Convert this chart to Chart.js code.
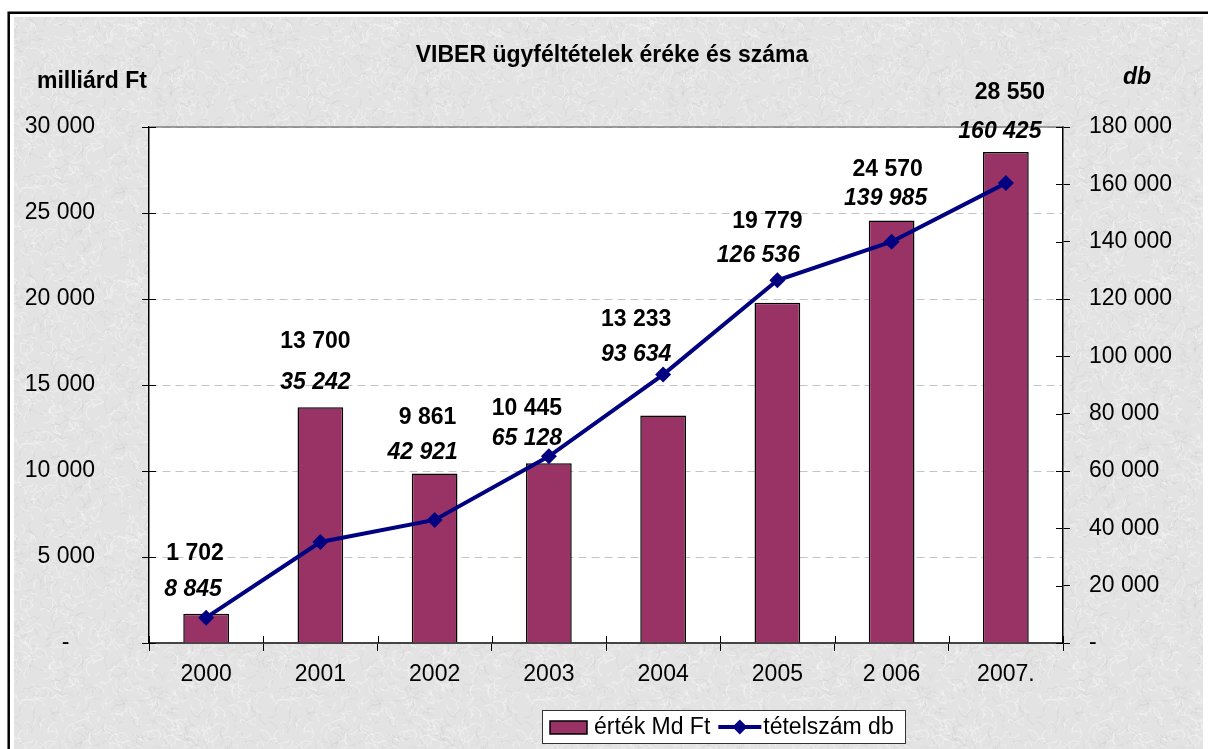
<!DOCTYPE html>
<html>
<head>
<meta charset="utf-8">
<title>VIBER ügyféltételek</title>
<script src="https://cdn.jsdelivr.net/npm/chart.js@4/dist/chart.umd.min.js"></script>
<style>
  html, body { margin: 0; padding: 0; background: #fff; }
  #wrap { width: 1208px; height: 749px; }
</style>
</head>
<body>
<div id="wrap"><canvas id="viberChart" width="1208" height="749"></canvas></div>
<script>
// DATA

const years = ['2000', '2001', '2002', '2003', '2004', '2005', '2 006', '2007.'];
const valueMdFt = [1702, 13700, 9861, 10445, 13233, 19779, 24570, 28550];
const itemCount = [8845, 35242, 42921, 65128, 93634, 126536, 139985, 160425];

const leftTickLabels = ['-    ', '5 000', '10 000', '15 000', '20 000', '25 000', '30 000'];
const rightTickLabels = ['-', '20 000', '40 000', '60 000', '80 000', '100 000', '120 000', '140 000', '160 000', '180 000'];

// label nudges (pixels) so the texts sit where the original put them
const barLabelNudge = [[-11, 0], [-5, -5], [-7, 1], [-22, 6], [-27, 1], [-10, 2], [-4, 7], [4, -3]];
const lineLabelNudge = [[-13, 0], [-5, -1], [-12, 3], [-22, 6], [-27, 4], [-19, -1], [-6, 2], [-6, 4]];

const FONT = "'Liberation Sans', Arial, sans-serif";
const FS = 23;
const BAR_COLOR = '#993366';
const LINE_COLOR = '#000080';

function spaced(n) {
    return String(n).replace(/\B(?=(\d{3})+(?!\d))/g, ' ');
}

// light grey stone-like texture for the frame

function makeTexture() {
    const c = document.createElement('canvas');
    c.width = 256;
    c.height = 256;
    const g = c.getContext('2d');
    g.fillStyle = '#e3e3e3';
    g.fillRect(0, 0, 256, 256);
    let s = 11;
    const next = () => (s = (s * 16807) % 2147483647) / 2147483647;
    for (let i = 0; i < 1600; i++) {
        const x = next() * 256, y = next() * 256, a = next() * Math.PI * 2, l = 2 + next() * 7;
        g.strokeStyle = next() < 0.6 ? 'rgba(250,250,250,0.45)' : 'rgba(195,195,195,0.28)';
        g.lineWidth = 1;
        g.beginPath();
        g.moveTo(x, y);
        g.quadraticCurveTo(x + Math.cos(a + 0.8) * l, y + Math.sin(a + 0.8) * l,
            x + Math.cos(a) * l * 1.6, y + Math.sin(a) * l * 1.6);
        g.stroke();
    }
    return c;
}

const backgroundPlugin = {
    id: 'background',
    beforeDraw(chart) {
        const ctx = chart.ctx, a = chart.chartArea;
        ctx.save();
        ctx.fillStyle = '#fff';
        ctx.fillRect(0, 0, chart.width, chart.height);
        ctx.fillStyle = ctx.createPattern(makeTexture(), 'repeat');
        ctx.fillRect(14, 17, chart.width - 19, chart.height - 17);
        ctx.strokeStyle = '#000';
        ctx.lineWidth = 2.5;
        ctx.beginPath();
        ctx.moveTo(8.7, chart.height);
        ctx.lineTo(8.7, 12.8);
        ctx.lineTo(chart.width, 12.8);
        ctx.stroke();
        ctx.fillStyle = '#fff';
        ctx.fillRect(a.left, a.top, a.right - a.left, a.bottom - a.top);

        // titles
        ctx.fillStyle = '#000';
        ctx.textBaseline = 'alphabetic';
        ctx.font = 'bold ' + FS + 'px ' + FONT;
        ctx.textAlign = 'center';
        ctx.fillText('VIBER ügyféltételek éréke és száma', 612, 62);
        ctx.textAlign = 'left';
        ctx.fillText('milliárd Ft', 37, 88);
        ctx.font = 'italic bold ' + FS + 'px ' + FONT;
        ctx.fillText('db', 1123, 84);
        ctx.restore();
    },
    beforeDatasetsDraw(chart) {
        const ctx = chart.ctx, a = chart.chartArea;
        ctx.save();
        // solid top edge of the plot
        ctx.strokeStyle = '#808080';
        ctx.lineWidth = 1.5;
        ctx.beginPath();
        ctx.moveTo(a.left, a.top);
        ctx.lineTo(a.right, a.top);
        ctx.stroke();
        // tick marks also reach into the plot
        ctx.strokeStyle = '#000';
        ctx.lineWidth = 1;
        chart.scales.y.ticks.forEach((t, i) => {
            const y = Math.round(chart.scales.y.getPixelForTick(i)) + 0.5;
            ctx.beginPath(); ctx.moveTo(a.left, y); ctx.lineTo(a.left + 7, y); ctx.stroke();
        });
        chart.scales.y1.ticks.forEach((t, i) => {
            const y = Math.round(chart.scales.y1.getPixelForTick(i)) + 0.5;
            ctx.beginPath(); ctx.moveTo(a.right - 7, y); ctx.lineTo(a.right, y); ctx.stroke();
        });
        const step = (a.right - a.left) / years.length;
        for (let i = 0; i <= years.length; i++) {
            const x = Math.round(a.left + step * i) + 0.5;
            ctx.beginPath(); ctx.moveTo(x, a.bottom - 7); ctx.lineTo(x, a.bottom); ctx.stroke();
        }
        ctx.restore();
    }
};

const labelPlugin = {
    id: 'valueLabels',
    afterDatasetsDraw(chart) {
        const ctx = chart.ctx;
        const xs = chart.scales.x, ys = chart.scales.y, ys1 = chart.scales.y1;
        ctx.save();
        ctx.fillStyle = '#000';
        ctx.textAlign = 'center';
        ctx.textBaseline = 'middle';
        years.forEach((yr, i) => {
            const x = xs.getPixelForValue(i);
            const top = Math.min(ys.getPixelForValue(valueMdFt[i]), ys1.getPixelForValue(itemCount[i]));
            const lineY = top - 24 + lineLabelNudge[i][1];
            const barY = lineY - 36 + barLabelNudge[i][1];
            ctx.font = 'italic bold ' + FS + 'px ' + FONT;
            ctx.fillText(spaced(itemCount[i]), x + lineLabelNudge[i][0], lineY);
            ctx.font = 'bold ' + FS + 'px ' + FONT;
            ctx.fillText(spaced(valueMdFt[i]), x + barLabelNudge[i][0], barY);
        });
        ctx.restore();
    }
};

const legendPlugin = {
    id: 'boxLegend',
    afterDraw(chart) {
        const ctx = chart.ctx;
        const bar = chart.data.datasets[0], line = chart.data.datasets[1];
        ctx.save();
        ctx.font = FS + 'px ' + FONT;
        ctx.fillStyle = '#fff';
        ctx.fillRect(542, 710, 363, 33);
        ctx.strokeStyle = '#333';
        ctx.lineWidth = 1;
        ctx.strokeRect(542.5, 710.5, 363, 33);

        const cy = 727;
        ctx.fillStyle = bar.backgroundColor;
        ctx.fillRect(550, 721, 37, 13);
        ctx.strokeStyle = '#000';
        ctx.lineWidth = 1.5;
        ctx.strokeRect(550, 721, 37, 13);

        ctx.fillStyle = '#000';
        ctx.textAlign = 'left';
        ctx.textBaseline = 'middle';
        ctx.fillText(bar.label, 594, cy + 1);
        let x = 594 + ctx.measureText(bar.label).width + 8;

        ctx.strokeStyle = line.borderColor;
        ctx.lineWidth = 4;
        ctx.beginPath();
        ctx.moveTo(x, cy);
        ctx.lineTo(x + 43, cy);
        ctx.stroke();
        ctx.fillStyle = line.borderColor;
        const mx = x + 21.5, r = 7.5;
        ctx.beginPath();
        ctx.moveTo(mx - r, cy); ctx.lineTo(mx, cy - r); ctx.lineTo(mx + r, cy); ctx.lineTo(mx, cy + r);
        ctx.closePath();
        ctx.fill();

        ctx.fillStyle = '#000';
        ctx.fillText(line.label, x + 45, cy + 1);
        ctx.restore();
    }
};

// CHART

window.onload = function () {

    Chart.defaults.font.family = FONT;
    Chart.defaults.font.size = FS;
    Chart.defaults.color = '#000';

    const ctx = document.getElementById('viberChart').getContext('2d');

    new Chart(ctx, {
        type: 'bar',
        data: {
            labels: years,
            datasets: [{
                type: 'bar',
                label: 'érték Md Ft',
                data: valueMdFt,
                yAxisID: 'y',
                backgroundColor: BAR_COLOR,
                borderColor: '#000',
                borderWidth: 1.5,
                barPercentage: 0.4,
                categoryPercentage: 1,
                order: 1
            }, {
                type: 'line',
                label: 'tételszám db',
                data: itemCount,
                yAxisID: 'y1',
                borderColor: LINE_COLOR,
                backgroundColor: LINE_COLOR,
                borderWidth: 4,
                pointStyle: 'rectRot',
                pointRadius: 8,
                pointBorderWidth: 0,
                tension: 0,
                fill: false,
                order: 0
            }]
        },
        options: {
            responsive: false,
            animation: false,
            layout: { padding: { top: 127, left: 0, right: 0, bottom: 0 } },
            plugins: {
                legend: { display: false },
                title: { display: false },
                tooltip: { enabled: false }
            },
            scales: {
                x: {
                    offset: true,
                    grid: { offset: true, drawOnChartArea: false, tickLength: 8, color: '#000', tickColor: '#000' },
                    border: { color: '#444', width: 2 },
                    ticks: { padding: 10, maxRotation: 0, autoSkip: false, color: '#000' },
                    afterFit(s) { s.height = 106; }
                },
                y: {
                    position: 'left',
                    min: 0,
                    max: 30000,
                    ticks: {
                        stepSize: 5000,
                        padding: 47,
                        color: '#000',
                        callback: (v, i) => leftTickLabels[i]
                    },
                    grid: { color: '#c4c4c4', tickColor: '#000', tickLength: 7 },
                    border: { color: '#000', width: 1.5, dash: [8, 5] },
                    afterFit(s) { s.width = 149; }
                },
                y1: {
                    position: 'right',
                    min: 0,
                    max: 180000,
                    ticks: {
                        stepSize: 20000,
                        padding: 19,
                        color: '#000',
                        callback: (v, i) => rightTickLabels[i]
                    },
                    grid: { drawOnChartArea: false, tickColor: '#000', tickLength: 7 },
                    border: { color: '#000', width: 1.5 },
                    afterFit(s) { s.width = 145; }
                }
            }
        },
        plugins: [backgroundPlugin, labelPlugin, legendPlugin]
    });
};
</script>
</body>
</html>
